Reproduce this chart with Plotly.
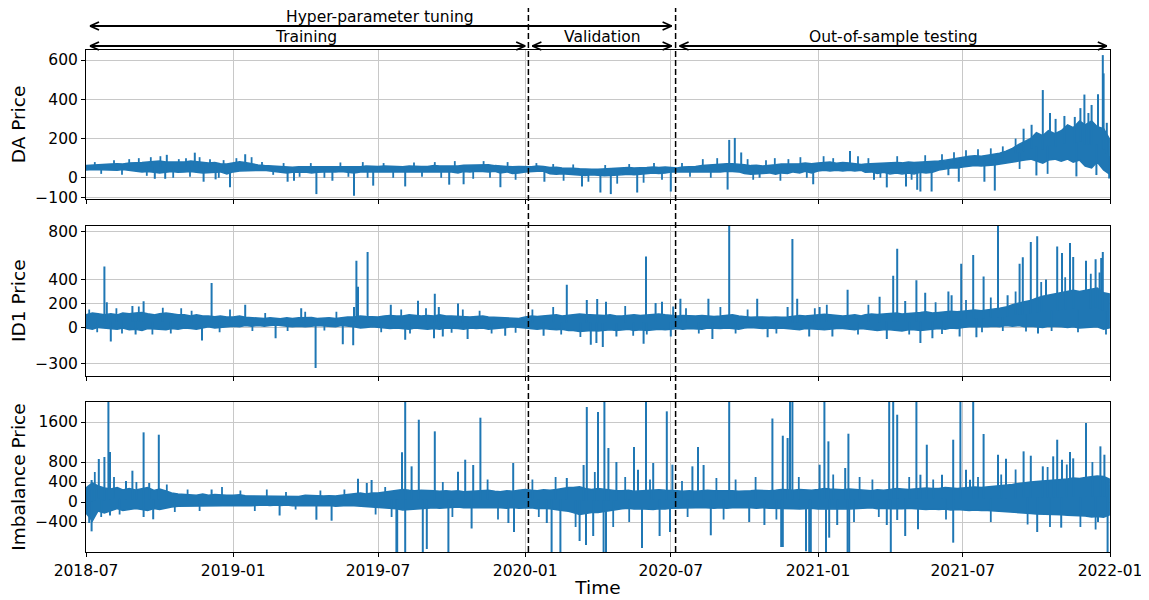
import numpy as np
import pandas as pd
import plotly.graph_objects as go
from plotly.subplots import make_subplots

# ---------------- data ----------------
MONTHS = pd.date_range("2018-07-01", "2021-12-01", freq="MS")   # 42 months
SAMPLE_DAYS = [0, 8, 15, 23]                                    # 4 readings per month
LAST_DAY = "2021-12-31"
X_TICKS = ["2018-07-01", "2019-01-01", "2019-07-01", "2020-01-01",
           "2020-07-01", "2021-01-01", "2021-07-01", "2022-01-01"]
X_TICK_LABELS = ["2018-07", "2019-01", "2019-07", "2020-01",
                 "2020-07", "2021-01", "2021-07", "2022-01"]

# ---- Day-ahead price: dense core band (upper / lower edge) ----
DA_HI = [[62,65,66,68],[70,72,70,75],[75,78,80,82],[85,80,80,78],[80,85,82,78],[75,78,72,70],
         [75,82,78,70],[65,62,60,58],[55,56,54,56],[56,55,56,55],[55,56,58,56],[58,56,60,58],
         [58,60,58,56],[56,60,58,58],[58,62,60,60],[62,60,64,65],[66,64,66,62],[60,58,56,58],
         [58,56,60,58],[52,54,50,50],[48,46,44,44],[44,46,44,48],[48,52,50,50],[52,55,52,55],
         [52,50,55,56],[58,62,65,66],[70,72,72,70],[66,62,64,60],[62,66,70,70],[70,72,75,72],
         [75,78,80,74],[78,75,72,68],[70,72,70,75],[75,78,76,80],[78,80,80,84],[85,90,95,100],
         [105,110,112,110],[115,120,125,135],[150,170,185,200],[230,215,240,225],[240,270,255,290],
         [270,290,260,250],[200]]
DA_LO = [[40,42,42,42],[40,38,42,40],[35,30,32,28],[25,30,32,28],[30,32,28,25],[25,28,30,20],
         [30,35,35,38],[38,38,35,33],[30,25,28,30],[30,25,28,30],[32,30,32,30],[25,30,32,30],
         [33,32,33,32],[30,32,33,32],[32,33,30,30],[30,25,32,30],[33,32,30,33],[25,30,22,25],
         [30,32,33,33],[20,18,20,18],[18,15,12,15],[12,10,12,15],[15,18,15,18],[20,25,22,25],
         [30,32,33,33],[33,33,32,30],[30,33,32,30],[22,18,18,22],[25,18,25,22],[30,25,33,25],
         [35,38,35,38],[35,38,35,38],[28,30,22,28],[20,25,20,25],[20,28,25,28],[40,45,50,50],
         [55,60,62,60],[62,65,70,75],[80,85,90,95],[85,75,90,95],[85,95,80,90],[60,50,80,40],[20]]
# isolated peaks / dips
DA_SPIKE_DATES = ["2018-10-10","2018-11-14","2019-01-16","2020-09-12","2020-09-19","2020-09-27",
                  "2021-02-10","2021-09-15","2021-09-25","2021-10-09","2021-10-18","2021-10-25",
                  "2021-11-05","2021-11-18","2021-11-25","2021-11-30","2021-12-05","2021-12-09",
                  "2021-12-17","2021-12-23","2021-12-24","2021-12-28",
                  "2018-09-25","2018-10-08","2018-11-25","2018-12-10","2018-12-28","2019-03-10",
                  "2019-03-18","2019-04-15","2019-05-05","2019-06-01","2019-06-25","2019-08-04",
                  "2019-09-28","2019-10-16","2019-12-01","2020-01-25","2020-03-12","2020-04-04",
                  "2020-04-17","2020-05-20","2020-07-01","2020-09-10","2020-10-20","2020-12-26",
                  "2021-03-12","2021-03-28","2021-04-21","2021-05-05","2021-05-09","2021-05-23",
                  "2021-06-13","2021-06-26","2021-07-28","2021-08-10","2021-10-01","2021-11-20",
                  "2021-12-15","2021-12-31"]
DA_SPIKE_VALS = [117,128,120,193,203,129,
                 137,250,270,447,330,300,
                 315,310,355,424,330,371,
                 425,625,532,280,
                 -5,-5,-20,-8,-48,-20,
                 -15,-83,-15,-92,-40,-44,
                 -35,-33,-48,-20,-44,-75,
                 -83,-75,-70,-60,0,-33,
                 -10,-49,-44,-61,-70,-70,
                 13,-20,-20,-65,12,7,
                 14,-3]
# short teeth sticking out of the band
DA_TEETH_DATES = ["2018-07-12","2018-07-20","2018-08-05","2018-08-15","2018-08-24","2018-09-05",
                  "2018-09-15","2018-09-20","2018-10-02","2018-10-18","2018-10-25","2018-11-03",
                  "2018-11-08","2018-11-20","2018-12-03","2018-12-14","2018-12-20","2019-01-05",
                  "2019-01-24","2019-02-06","2019-02-20","2019-03-05","2019-03-25","2019-04-08",
                  "2019-04-25","2019-05-15","2019-05-25","2019-06-12","2019-06-18","2019-07-08",
                  "2019-07-20","2019-08-15","2019-08-25","2019-09-10","2019-09-18","2019-10-05",
                  "2019-10-28","2019-11-10","2019-11-18","2019-12-10","2019-12-20","2020-01-15",
                  "2020-02-05","2020-02-18","2020-03-01","2020-03-20","2020-04-10","2020-04-25",
                  "2020-05-10","2020-05-28","2020-06-10","2020-06-20","2020-07-15","2020-07-25",
                  "2020-08-10","2020-08-20","2020-08-28","2020-10-05","2020-10-12","2020-10-28",
                  "2020-11-08","2020-11-15","2020-11-25","2020-12-10","2020-12-18","2021-01-08",
                  "2021-01-20","2021-02-20","2021-03-05","2021-03-20","2021-04-10","2021-04-28",
                  "2021-05-15","2021-06-05","2021-06-20","2021-07-05","2021-07-20","2021-08-05",
                  "2021-08-20","2021-09-05","2021-09-10","2021-10-15"]
DA_TEETH_VALS = [80,20,90,15,95,100,
                 10,105,110,0,95,100,
                 5,105,95,0,90,100,
                 105,80,15,75,5,75,
                 0,78,5,80,0,75,
                 0,78,5,80,0,85,
                 -5,85,0,80,-10,75,
                 70,-15,68,-20,65,-30,
                 70,-25,75,-10,75,5,
                 95,0,100,95,-10,90,
                 100,-15,95,105,0,110,
                 100,110,100,0,110,-10,
                 115,120,130,140,145,150,
                 160,200,45,20]

# ---- Intraday (ID1) price ----
ID1_HI = [[105,120,115,105],[115,105,120,115],[120,125,115,105],[115,120,115,105],[105,95,105,95],
          [95,90,95,88],[88,95,85,80],[80,75,80,75],[72,80,75,80],[80,82,75,80],[80,75,82,88],
          [88,95,92,88],[88,95,100,95],[95,105,100,95],[100,95,105,95],[95,92,95,88],
          [92,95,88,85],[80,75,72,75],[88,95,92,95],[100,105,95,100],[105,112,108,105],
          [105,100,105,95],[95,100,105,100],[105,108,112,105],[100,95,100,95],[95,100,95,92],
          [95,100,105,95],[88,85,88,85],[85,88,85,88],[95,100,95,100],[105,110,105,100],
          [95,100,105,95],[105,112,108,112],[115,120,112,115],[120,125,130,120],[125,130,135,130],
          [135,140,145,140],[150,155,160,170],[190,205,215,225],[245,260,270,280],[290,300,310,300],
          [310,320,330,290],[280]]
ID1_LO = [[-5,-15,0,-5],[-10,-15,-5,-20],[-15,-25,-10,-15],[-15,-20,-10,-15],[-5,-10,-15,-5],
          [5,-5,0,5],[10,5,15,10],[15,10,15,20],[15,10,5,10],[5,10,15,10],[10,5,15,10],[5,-5,0,5],
          [0,-5,-10,-5],[-10,-15,-5,-10],[-15,-10,-15,-5],[-5,-10,-15,-5],[-10,-5,-15,-10],
          [-5,0,5,0],[-5,-10,-15,-10],[-15,-20,-15,-25],[-25,-35,-30,-25],[-30,-25,-20,-25],
          [-20,-15,-25,-20],[-25,-20,-15,-20],[-15,-10,-15,-10],[-10,-15,-5,-10],[-10,-5,-10,-15],
          [-5,0,-5,-10],[-5,-10,-5,-15],[-15,-20,-10,-15],[-15,-20,-15,-10],[-10,-15,-20,-10],
          [-15,-20,-25,-20],[-20,-25,-30,-20],[-20,-25,-20,-15],[-10,-15,-5,-10],[0,5,10,5],
          [5,10,5,15],[10,15,5,10],[5,0,10,5],[5,0,5,-5],[-5,0,5,-15],[-5]]
ID1_SPIKE_DATES = ["2018-07-24","2018-07-27","2018-08-28","2018-09-11","2018-12-05","2019-01-16",
                   "2019-03-27","2019-06-01","2019-06-04","2019-06-06","2019-06-18","2019-07-17",
                   "2019-08-20","2019-09-10","2019-09-15","2019-10-09","2020-02-22","2020-03-18",
                   "2020-03-31","2020-04-11","2020-05-31","2020-06-12","2020-06-20","2020-07-04",
                   "2020-07-13","2020-08-17","2020-09-12","2020-10-17","2020-11-24","2020-11-30",
                   "2020-12-06","2021-01-03","2021-02-07","2021-03-19","2021-04-05","2021-04-10",
                   "2021-04-20","2021-05-04","2021-05-15","2021-06-13","2021-06-17","2021-06-29",
                   "2021-07-14","2021-07-27","2021-08-14","2021-08-26","2021-09-10","2021-09-14",
                   "2021-09-24","2021-10-02","2021-10-13","2021-10-27","2021-11-02","2021-11-12",
                   "2021-11-16","2021-12-02","2021-12-14","2021-12-19","2021-12-21","2021-12-23",
                   "2018-08-01","2018-09-01","2018-11-23","2019-02-23","2019-04-14","2019-05-18",
                   "2019-05-31","2019-08-04","2019-09-09","2019-09-20","2019-10-21","2019-12-07",
                   "2020-01-24","2020-03-23","2020-03-30","2020-04-07","2020-04-24","2020-05-28",
                   "2020-07-01","2020-08-22","2020-10-30","2020-12-21","2021-01-19","2021-03-28",
                   "2021-05-09","2021-05-24","2021-06-27","2021-07-18","2021-10-03"]
ID1_SPIKE_VALS = [510,210,180,218,372,190,
                  160,170,558,340,631,190,
                  223,282,170,200,357,230,
                  238,215,594,205,215,175,
                  240,240,900,240,170,740,
                  240,170,315,257,433,659,
                  220,394,290,300,270,533,
                  606,427,900,270,533,586,
                  715,762,400,678,622,706,
                  590,558,570,460,580,631,
                  -117,-60,-109,-90,-340,-140,
                  -150,-103,-90,-77,-97,-70,
                  -70,-145,-130,-164,-77,-137,
                  -77,-97,-83,-77,-77,-97,
                  -130,-90,-77,-83,-50]
ID1_TEETH_DATES = ["2018-07-05","2018-07-15","2018-08-08","2018-08-15","2018-09-05","2018-09-22",
                   "2018-10-05","2018-10-15","2018-10-28","2018-11-10","2018-12-15","2018-12-28",
                   "2019-01-25","2019-02-10","2019-03-10","2019-04-01","2019-04-25","2019-05-10",
                   "2019-07-05","2019-07-30","2019-08-10","2019-08-30","2019-10-01","2019-10-15",
                   "2019-11-05","2019-11-20","2019-12-20","2020-01-10","2020-02-05","2020-02-15",
                   "2020-03-10","2020-05-05","2020-05-15","2020-06-01","2020-07-20","2020-08-05",
                   "2020-09-01","2020-09-20","2020-10-05","2020-11-10","2020-12-28","2021-01-12",
                   "2021-02-20","2021-03-05","2021-04-25","2021-05-28","2021-06-05","2021-07-05",
                   "2021-07-25","2021-08-05","2021-08-20","2021-09-05","2021-09-18","2021-10-07",
                   "2021-10-20","2021-11-06","2021-11-22","2021-12-08","2021-12-27"]
ID1_TEETH_VALS = [150,-40,160,-50,175,-60,
                  165,-50,160,140,-40,150,
                  -30,120,-30,130,-25,130,
                  -40,150,-50,160,-45,150,
                  140,-50,-45,150,170,-60,
                  -80,180,-70,-60,160,-50,
                  170,-50,150,-50,160,190,
                  -60,190,-60,210,-55,230,
                  -40,250,-30,300,-35,380,
                  -30,420,-40,450,-60]

# ---- Imbalance price ----
IMB_HI = [[280,380,320,280],[260,290,240,270],[240,270,290,230],[260,220,180,160],[150,140,135,160],
          [135,150,140,135],[135,145,125,125],[120,125,120,110],[110,125,120,110],[135,125,120,120],
          [125,120,135,145],[160,180,160,180],[180,200,215,225],[250,235,225,235],[235,225,215,225],
          [215,225,205,215],[215,225,235,215],[205,225,215,235],[250,235,225,245],[235,250,270,290],
          [290,305,270,250],[270,250,235,225],[225,235,215,225],[235,250,245,235],[235,225,215,225],
          [215,225,235,225],[225,235,225,215],[215,225,235,225],[225,235,250,245],[235,250,245,235],
          [250,270,260,250],[245,260,250,235],[235,225,245,235],[250,270,260,250],[260,270,280,270],
          [270,290,280,270],[280,290,300,290],[300,310,320,330],[350,370,390,400],[410,420,430,440],
          [440,460,480,470],[490,500,520,510],[460]]
IMB_LO = [[-220,-380,-180,-220],[-170,-130,-170,-150],[-130,-150,-170,-130],[-150,-130,-100,-85],
          [-85,-75,-70,-85],[-75,-70,-85,-75],[-75,-70,-70,-75],[-70,-60,-70,-60],[-70,-60,-75,-70],
          [-70,-75,-85,-70],[-70,-85,-75,-70],[-75,-85,-95,-100],[-100,-110,-125,-135],
          [-160,-150,-135,-125],[-125,-115,-125,-115],[-110,-100,-115,-110],[-115,-110,-125,-115],
          [-115,-125,-110,-125],[-125,-115,-135,-125],[-135,-150,-170,-185],[-210,-250,-230,-210],
          [-210,-185,-170,-150],[-135,-125,-140,-135],[-140,-150,-135,-140],[-125,-115,-125,-115],
          [-115,-110,-115,-125],[-115,-125,-115,-110],[-110,-115,-125,-115],[-125,-135,-140,-135],
          [-135,-140,-135,-125],[-140,-150,-140,-135],[-135,-140,-135,-125],[-125,-115,-135,-125],
          [-135,-140,-135,-125],[-135,-140,-150,-140],[-150,-140,-160,-150],[-160,-170,-160,-170],
          [-170,-180,-185,-195],[-205,-215,-220,-230],[-240,-245,-255,-255],[-255,-265,-270,-280],
          [-280,-300,-290,-305],[-260]]
IMB_SPIKE_DATES = ["2018-07-08","2018-07-17","2018-07-24","2018-07-29","2018-07-31","2018-08-20",
                   "2018-08-28","2018-09-11","2018-09-18","2018-09-30","2018-12-05","2019-06-06",
                   "2019-06-17","2019-06-23","2019-07-31","2019-08-04","2019-08-12","2019-08-21",
                   "2019-09-10","2019-10-09","2019-10-18","2019-10-28","2019-11-06","2019-12-17",
                   "2020-02-22","2020-03-14","2020-03-18","2020-04-01","2020-04-09","2020-04-14",
                   "2020-04-24","2020-05-16","2020-05-21","2020-05-31","2020-06-09","2020-06-26",
                   "2020-07-03","2020-07-28","2020-08-04","2020-08-11","2020-09-12","2020-11-05",
                   "2020-11-18","2020-11-24","2020-11-27","2020-11-30","2021-01-03","2021-01-09",
                   "2021-01-14","2021-02-04","2021-02-08","2021-03-31","2021-04-05","2021-04-10",
                   "2021-05-04","2021-05-09","2021-05-17","2021-06-05","2021-06-19","2021-06-28",
                   "2021-07-05","2021-07-10","2021-07-14","2021-07-27","2021-08-14","2021-08-24",
                   "2021-09-15","2021-09-24","2021-10-09","2021-10-22","2021-10-27","2021-11-02",
                   "2021-11-12","2021-11-16","2021-12-02","2021-12-20","2021-12-25",
                   "2018-07-05","2018-07-08","2018-07-31","2018-09-11","2018-09-23","2019-02-28",
                   "2019-04-15","2019-05-04","2019-07-24","2019-07-25","2019-08-04","2019-08-26",
                   "2019-08-31","2019-09-27","2019-10-26","2019-12-11","2019-12-18","2020-01-28",
                   "2020-02-03","2020-02-14","2020-03-09","2020-03-17","2020-03-26","2020-04-08",
                   "2020-04-11","2020-05-26","2020-06-17","2020-06-30","2020-08-20","2020-10-07",
                   "2020-10-26","2020-11-16","2020-11-18","2020-12-17","2020-12-21","2020-12-23",
                   "2021-01-11","2021-01-15","2021-01-25","2021-02-07","2021-02-09","2021-03-28",
                   "2021-04-02","2021-04-10","2021-04-20","2021-05-06","2021-06-19","2021-10-02",
                   "2021-11-01","2021-12-17","2021-12-29"]
IMB_SPIKE_VALS = [440,860,900,2100,1000,420,
                  626,1393,380,1346,250,466,
                  380,440,993,2100,713,1646,
                  1413,606,846,740,1686,780,
                  480,740,1900,1800,2100,1080,
                  800,1100,646,2100,780,1813,
                  746,713,1100,740,2100,1670,
                  1326,1280,2100,2100,746,2100,
                  1213,680,1366,2100,2100,1746,
                  2100,546,1146,546,1246,2100,
                  646,446,2100,1360,946,866,
                  1013,926,713,913,1246,846,
                  1000,873,1580,1113,946,
                  -420,-587,-270,-300,-346,-270,
                  -354,-374,-1100,-1100,-1100,-1100,
                  -940,-1100,-530,-420,-600,-420,
                  -1100,-1100,-780,-860,-680,-1100,
                  -1100,-920,-680,-600,-666,-400,
                  -460,-900,-900,-986,-1100,-1100,
                  -1100,-713,-460,-1100,-1100,-460,
                  -1100,-360,-680,-546,-813,-600,
                  -513,-400,-1100]
IMB_TEETH_DATES = ["2018-07-12","2018-07-20","2018-08-05","2018-08-12","2018-09-02","2018-10-10",
                   "2018-10-20","2018-11-05","2018-11-20","2018-12-18","2019-01-10","2019-01-28",
                   "2019-02-12","2019-03-08","2019-03-20","2019-04-20","2019-05-20","2019-06-28",
                   "2019-07-10","2019-07-18","2019-09-20","2019-10-02","2019-11-15","2019-11-28",
                   "2020-01-10","2020-01-18","2020-02-08","2020-03-04","2020-03-28","2020-04-20",
                   "2020-05-05","2020-05-10","2020-06-05","2020-07-15","2020-07-22","2020-08-27",
                   "2020-09-05","2020-09-20","2020-10-15","2020-11-10","2020-12-08","2021-01-20",
                   "2021-02-15","2021-02-22","2021-03-10","2021-03-18","2021-04-25","2021-05-25",
                   "2021-06-10","2021-07-20","2021-08-05","2021-08-18","2021-09-05","2021-09-20",
                   "2021-10-15","2021-10-18","2021-11-08","2021-11-25","2021-12-10","2021-12-14"]
IMB_TEETH_VALS = [600,-300,500,-250,400,350,
                  -200,250,-180,300,230,-180,
                  250,200,-150,230,250,-250,
                  300,-300,400,-300,450,-350,
                  450,-300,500,-500,600,-500,
                  500,-400,450,420,-300,480,
                  -350,450,500,-350,500,550,
                  -400,500,450,-300,500,450,
                  -350,500,-400,550,650,-450,
                  700,-500,750,-500,800,-550]

SPLIT_DATES = ["2020-01-05", "2020-07-07"]
ARROWS = [  # (left tip, right tip, label, label position, row)
    ("2018-07-06", "2020-07-02", "Hyper-parameter tuning", "2019-07-04", 0),
    ("2018-07-06", "2020-01-01", "Training", "2019-04-02", 1),
    ("2020-01-10", "2020-07-02", "Validation", "2020-04-06", 1),
    ("2020-07-12", "2021-12-28", "Out-of-sample testing", "2021-04-05", 1),
]

# ---------------- figure ----------------
BLUE = "#1f77b4"
FONT = "DejaVu Sans"
PAGE_PAD = 8   # the page body adds an 8px margin around the figure

sample_dates = [m + pd.Timedelta(days=d) for m in MONTHS for d in SAMPLE_DAYS] + [pd.Timestamp(LAST_DAY)]
sample_dates = pd.DatetimeIndex(sample_dates)


def flat(rows):
    return np.array([v for r in rows for v in r], dtype=float)


def stick_trace(sp_dates, sp_vals, mid, width):
    sp = pd.to_datetime(sp_dates)
    base = np.interp(sp.asi8, sample_dates.asi8, mid)
    x, y = [], []
    for d, b, v in zip(sp, base, sp_vals):
        x += [d, d, None]
        y += [b, v, None]
    return go.Scatter(x=x, y=y, mode="lines", line=dict(color=BLUE, width=width),
                      showlegend=False, hoverinfo="skip")


def add_series(fig, row, hi_rows, lo_rows, sp_dates, sp_vals, t_dates, t_vals):
    hi, lo = flat(hi_rows), flat(lo_rows)
    xs = list(sample_dates) + list(sample_dates[::-1])
    ys = list(hi) + list(lo[::-1])
    fig.add_trace(go.Scatter(x=xs, y=ys, mode="lines", fill="toself", fillcolor=BLUE,
                             line=dict(color=BLUE, width=1.5), hoverinfo="skip",
                             showlegend=False), row=row, col=1)
    mid = (hi + lo) / 2.0
    fig.add_trace(stick_trace(t_dates, t_vals, mid, 1.8), row=row, col=1)
    fig.add_trace(stick_trace(sp_dates, sp_vals, mid, 2.0), row=row, col=1)


fig = make_subplots(rows=3, cols=1, shared_xaxes=True, vertical_spacing=0.05)
add_series(fig, 1, DA_HI, DA_LO, DA_SPIKE_DATES, DA_SPIKE_VALS, DA_TEETH_DATES, DA_TEETH_VALS)
add_series(fig, 2, ID1_HI, ID1_LO, ID1_SPIKE_DATES, ID1_SPIKE_VALS, ID1_TEETH_DATES, ID1_TEETH_VALS)
add_series(fig, 3, IMB_HI, IMB_LO, IMB_SPIKE_DATES, IMB_SPIKE_VALS, IMB_TEETH_DATES, IMB_TEETH_VALS)

axis_common = dict(showline=True, mirror=True, linecolor="black", linewidth=1,
                   ticks="outside", ticklen=4, tickcolor="black", automargin=False,
                   showgrid=True, gridcolor="#c8c8c8", gridwidth=1, zeroline=False,
                   tickfont=dict(family=FONT, size=15.5, color="black"))

fig.update_xaxes(range=["2018-07-01", "2022-01-01"], tickvals=X_TICKS, ticktext=X_TICK_LABELS,
                 **axis_common)
fig.update_xaxes(showticklabels=False, row=1, col=1)
fig.update_xaxes(showticklabels=False, row=2, col=1)
fig.update_xaxes(title=dict(text="Time", font=dict(family=FONT, size=18.5, color="black"), standoff=2),
                 row=3, col=1)

title_font = dict(family=FONT, size=18.5, color="black")
fig.update_yaxes(range=[-108, 651], tickvals=[-100, 0, 200, 400, 600], domain=[0.7032, 1.0],
                 title=dict(text="DA Price", font=title_font, standoff=6), row=1, col=1, **axis_common)
fig.update_yaxes(range=[-404, 851], tickvals=[-300, 0, 200, 400, 800], domain=[0.3512, 0.6500],
                 title=dict(text="ID1 Price", font=title_font, standoff=6), row=2, col=1, **axis_common)
fig.update_yaxes(range=[-1000, 2000], tickvals=[-400, 0, 400, 800, 1600], domain=[0.0, 0.2988],
                 title=dict(text="Imbalance Price", font=title_font, standoff=6), row=3, col=1, **axis_common)

shapes = []
for d in SPLIT_DATES:
    shapes.append(dict(type="line", xref="x", yref="paper", x0=d, x1=d, y0=0, y1=1.09,
                       line=dict(color="black", width=1.5, dash="6px,3px"), layer="above"))

ARROW_Y = [1.0478, 1.0080]
TEXT_Y = [1.0657, 1.0259]
annotations = []
for left, right, label, lab_x, r in ARROWS:
    yy = ARROW_Y[r]
    shapes.append(dict(type="line", xref="x", yref="paper", x0=left, x1=right, y0=yy, y1=yy,
                       line=dict(color="black", width=1.8)))
    for tip, sgn in ((left, 1), (right, -1)):
        for dy in (4, -4):
            shapes.append(dict(type="line", xref="x", yref="paper", xsizemode="pixel", ysizemode="pixel",
                               xanchor=tip, yanchor=yy, x0=0, x1=9 * sgn, y0=0, y1=dy,
                               line=dict(color="black", width=1.8)))
    annotations.append(dict(x=lab_x, y=TEXT_Y[r], xref="x", yref="paper", text=label, showarrow=False,
                            xanchor="center", yanchor="middle",
                            font=dict(family=FONT, size=15.5, color="black")))

fig.update_layout(width=1149 - PAGE_PAD, height=600 - PAGE_PAD,
                  margin=dict(l=86 - PAGE_PAD, r=39, t=50 - PAGE_PAD, b=48),
                  plot_bgcolor="white", paper_bgcolor="white",
                  font=dict(family=FONT, color="black"),
                  shapes=shapes, annotations=annotations, showlegend=False)

fig.write_html("out.html")
